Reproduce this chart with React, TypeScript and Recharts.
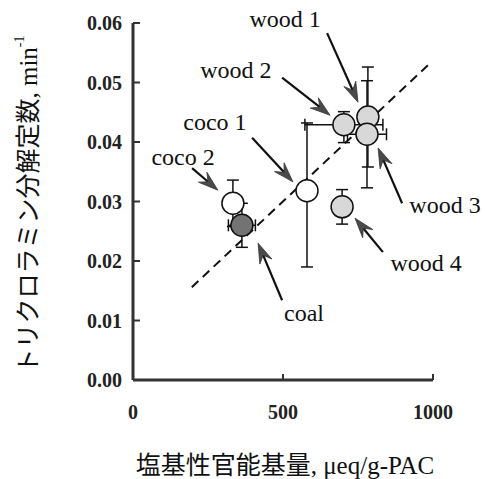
import React from "react"
import { ScatterChart, Scatter, XAxis, YAxis, ErrorBar, ReferenceLine, ReferenceDot } from "recharts"

// Basic surface groups vs. trichloramine decomposition rate, per carbon sample
const sampleNames = ["coco 2", "coal", "coco 1", "wood 4", "wood 2", "wood 1", "wood 3"]
const sampleTypes = ["coco", "coal", "coco", "wood", "wood", "wood", "wood"]
const basicGroups = [333, 363, 580, 697, 703, 783, 780]
const rateConstants = [0.0297, 0.026, 0.0318, 0.0291, 0.0429, 0.0442, 0.0413]
const rateErrors: [number, number][] = [
  [0.0039, 0.0039],
  [0.0037, 0.0037],
  [0.0128, 0.0114],
  [0.0029, 0.0029],
  [0.003, 0.0022],
  [0.0084, 0.0084],
  [0.009, 0.009],
]
const groupErrors = [0, 45, 0, 0, 130, 0, 65]

// dashed trend line end points
const trendStart = { x: 196, y: 0.0156 }
const trendEnd = { x: 983, y: 0.0529 }

const xTicks = [0, 500, 1000]
const yTicks = [0, 0.01, 0.02, 0.03, 0.04, 0.05, 0.06]

// callouts: label position, arrow tail and arrow tip (data units)
const calloutNames = ["wood 1", "wood 2", "coco 1", "coco 2", "coal", "wood 3", "wood 4"]
const calloutLabels = [
  { x: 507, y: 0.0607 },
  { x: 343, y: 0.0521 },
  { x: 273, y: 0.0434 },
  { x: 167, y: 0.0375 },
  { x: 570, y: 0.0113 },
  { x: 1040, y: 0.0294 },
  { x: 977, y: 0.0197 },
]
const calloutTails = [
  { x: 647, y: 0.0583 },
  { x: 497, y: 0.0508 },
  { x: 397, y: 0.0407 },
  { x: 197, y: 0.0356 },
  { x: 497, y: 0.0134 },
  { x: 897, y: 0.0297 },
  { x: 833, y: 0.0215 },
]
const calloutTips = [
  { x: 750, y: 0.0467 },
  { x: 657, y: 0.0445 },
  { x: 533, y: 0.0333 },
  { x: 283, y: 0.0319 },
  { x: 417, y: 0.023 },
  { x: 817, y: 0.039 },
  { x: 740, y: 0.0272 },
]

const data = sampleNames.map((name, i) => ({
  name,
  type: sampleTypes[i],
  x: basicGroups[i],
  y: rateConstants[i],
  yErr: rateErrors[i],
  xErr: groupErrors[i],
}))

const fills: Record<string, string> = { coco: "#ffffff", wood: "#d8d8d8", coal: "#737373" }

const SERIF = "'Liberation Serif', 'Times New Roman', serif"
const MIXED = "'Liberation Serif', 'Noto Sans CJK JP', serif"
const AXIS = "#333"

const YTick = ({ x, y, payload }: any) => (
  <g>
    <line x1={x} x2={x + 7} y1={y} y2={y} stroke={AXIS} strokeWidth={2} />
    <text x={x - 11} y={y} textAnchor="end" dominantBaseline="central" fontFamily={SERIF} fontWeight="bold" fontSize={20} fill="#222">
      {Number(payload.value).toFixed(2)}
    </text>
  </g>
)

const XTick = ({ x, y, payload }: any) => (
  <g>
    <line x1={x} x2={x} y1={y} y2={y - 6} stroke={AXIS} strokeWidth={2} />
    <text x={x} y={y + 32} textAnchor="middle" dominantBaseline="central" fontFamily={SERIF} fontWeight="bold" fontSize={20} fill="#222">
      {payload.value}
    </text>
  </g>
)

const Arrow = (p: any) => {
  const { x1, y1, x2, y2 } = p
  const dx = x2 - x1
  const dy = y2 - y1
  const len = Math.hypot(dx, dy) || 1
  const ux = dx / len
  const uy = dy / len
  const nx = -uy
  const ny = ux
  const head = 20
  const half = 6.5
  const notch = 13
  const bx = x2 - ux * head
  const by = y2 - uy * head
  const mx = x2 - ux * notch
  const my = y2 - uy * notch
  const pts = `${x2},${y2} ${bx + nx * half},${by + ny * half} ${mx},${my} ${bx - nx * half},${by - ny * half}`
  return (
    <g>
      <line x1={x1} y1={y1} x2={mx} y2={my} stroke="#111" strokeWidth={2.2} />
      <polygon points={pts} fill="#4a4a4a" stroke="#333" strokeWidth={0.8} />
    </g>
  )
}

const Point = (p: any) => (
  <circle cx={p.cx} cy={p.cy} r={11} fill={fills[p.payload.type]} stroke="#111" strokeWidth={1.5} />
)

export default function App() {
  return (
    <div style={{ position: "absolute", left: 0, top: 0, background: "#fff" }}>
      <ScatterChart width={485} height={479} margin={{ top: 23, right: 52, bottom: 0, left: 0 }}>
        <XAxis
          type="number"
          dataKey="x"
          domain={[0, 1000]}
          ticks={xTicks}
          height={99}
          tickSize={0}
          tickMargin={0}
          tickLine={false}
          tick={<XTick />}
          axisLine={{ stroke: AXIS, strokeWidth: 3 }}
          label={{
            content: ({ viewBox }: any) => (
              <text x={viewBox.x + viewBox.width / 2 + 2} y={465} textAnchor="middle" dominantBaseline="central" fontFamily={MIXED} fontSize={25} fill="#111">
                塩基性官能基量, μeq/g-PAC
              </text>
            ),
          }}
        />
        <YAxis
          type="number"
          dataKey="y"
          domain={[0, 0.06]}
          ticks={yTicks}
          width={133}
          tickSize={0}
          tickMargin={0}
          tickLine={false}
          tick={<YTick />}
          axisLine={{ stroke: AXIS, strokeWidth: 3 }}
          label={{
            content: ({ viewBox }: any) => {
              const cy = viewBox.y + viewBox.height / 2 + 3
              return (
                <text x={28} y={cy} transform={`rotate(-90, 28, ${cy})`} textAnchor="middle" dominantBaseline="central" fontFamily={MIXED} fontSize={25} fill="#111">
                  トリクロラミン分解定数, min
                  <tspan fontSize={14} dy={-9}>-1</tspan>
                </text>
              )
            },
          }}
        />
        <ReferenceLine
          segment={[trendStart, trendEnd]}
          stroke="#111"
          strokeWidth={2}
          strokeDasharray="9 6"
          ifOverflow="visible"
        />
        <Scatter data={data} shape={Point} isAnimationActive={false}>
          <ErrorBar dataKey="yErr" direction="y" width={6} stroke="#111" strokeWidth={1.5} />
          <ErrorBar dataKey="xErr" direction="x" width={6} stroke="#111" strokeWidth={1.5} />
        </Scatter>
        {calloutNames.map((name, i) => (
          <ReferenceLine
            key={`arrow-${name}`}
            segment={[calloutTails[i], calloutTips[i]]}
            ifOverflow="visible"
            shape={Arrow}
          />
        ))}
        {calloutNames.map((name, i) => (
          <ReferenceDot
            key={`label-${name}`}
            x={calloutLabels[i].x}
            y={calloutLabels[i].y}
            r={0}
            ifOverflow="visible"
            shape={(p: any) => (
              <text x={p.cx} y={p.cy} textAnchor="middle" dominantBaseline="central" fontFamily={SERIF} fontSize={24} fill="#111">
                {name}
              </text>
            )}
          />
        ))}
      </ScatterChart>
    </div>
  )
}
